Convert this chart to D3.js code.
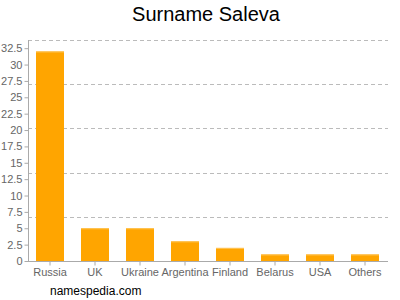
<!DOCTYPE html>
<html><head><meta charset="utf-8">
<script src="https://cdn.jsdelivr.net/npm/d3@7"></script>
<style>body{margin:0;background:#fff;}svg{display:block;font-family:"Liberation Sans",Arial,sans-serif;}</style>
</head><body><svg id="c" width="400" height="300"></svg>
<script>
const categories = ["Russia","UK","Ukraine","Argentina","Finland","Belarus","USA","Others"];
const values = [32,5,5,3,2,1,1,1];
const yTicks = [0,2.5,5,7.5,10,12.5,15,17.5,20,22.5,25,27.5,30,32.5];
const gridValues = [6.75,13.5,20.25,27,33.75];
const title = "Surname Saleva";
const credit = "namespedia.com";

const svg = d3.select("#c");
const x = d3.scaleBand().domain(categories).range([27.5,387.5]).paddingInner(0.378).paddingOuter(0.189);
const y = d3.scaleLinear().domain([0,33.75]).range([261,40]);

svg.append("text").attr("x",206).attr("y",21).attr("text-anchor","middle")
  .attr("font-size",20).attr("fill","#000").text(title);

svg.append("g").selectAll("line").data(gridValues).join("line")
  .attr("x1",28).attr("x2",388).attr("y1",d=>Math.round(y(d))+0.5).attr("y2",d=>Math.round(y(d))+0.5)
  .attr("stroke","#bbb").attr("stroke-dasharray","4,3");

svg.append("g").selectAll("rect").data(values).join("rect")
  .attr("x",(d,i)=>x(categories[i])).attr("width",x.bandwidth())
  .attr("y",d=>y(d)).attr("height",d=>261-y(d)).attr("fill","#ffa500");
svg.append("g").selectAll("rect").data(values).join("rect")
  .attr("x",(d,i)=>x(categories[i])).attr("width",x.bandwidth())
  .attr("y",d=>y(d)).attr("height",1).attr("fill","#ffc455");

const ya = svg.append("g").attr("transform","translate(28.5,0)")
  .call(d3.axisLeft(y).tickValues(yTicks).tickSize(4).tickPadding(2).tickFormat(d=>String(d)));
ya.select(".domain").attr("stroke","#aaa").attr("d","M0,40V261");
ya.selectAll(".tick line").attr("stroke","#aaa");
ya.selectAll("text").attr("fill","#666").attr("font-size",11).attr("font-family","Liberation Sans, Arial, sans-serif");

const xa = svg.append("g").attr("transform","translate(0,261.5)")
  .call(d3.axisBottom(x).tickSize(4).tickSizeOuter(0).tickPadding(3));
xa.select(".domain").attr("stroke","#aaa").attr("d","M28,0H388");
xa.selectAll(".tick line").attr("stroke","#aaa");
xa.selectAll("text").attr("fill","#666").attr("font-size",11).attr("font-family","Liberation Sans, Arial, sans-serif");

svg.append("text").attr("x",50).attr("y",295).attr("font-size",12).attr("fill","#000").text(credit);
</script></body></html>
